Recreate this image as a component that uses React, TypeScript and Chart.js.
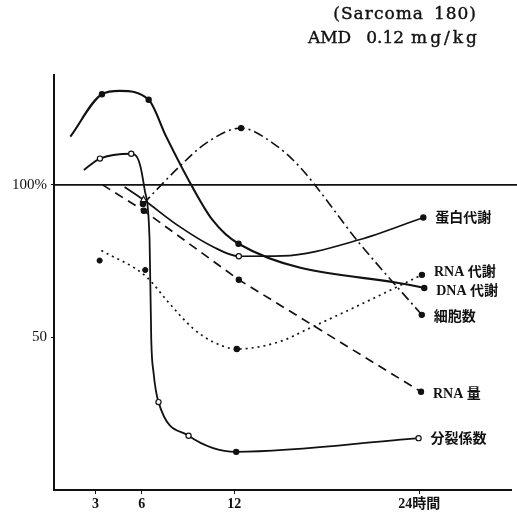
import React, { useEffect, useRef } from "react";
import { Chart, registerables } from "chart.js";

Chart.register(...registerables);

// ---- axis ticks ----
const xTicks = [3, 6, 12, 24];
const xTickLabels = ["3", "6", "12", "24時間"];
const yTicks = [50, 100];
const yTickLabels = ["50", "100%"];
const refLevel = 100;

// ---- series (time in hours, value in %) ----
// DNA 代謝 : heavy curve with early peak
const dnaT = [1.36, 3.41, 4.56, 6.44, 7.58, 9.2, 10.58, 12.27, 24.32];
const dnaV = [115.8, 129.7, 130.8, 127.9, 115.8, 100.0, 88.5, 80.7, 66.2];
const dnaMarks = ["", "f", "", "f", "", "", "", "f", "f"];

// 蛋白代謝
const proT = [4.88, 6.11, 8.45, 10.58, 12.29, 15.12, 20.1, 24.26];
const proV = [99.3, 95.1, 86.3, 79.8, 76.6, 76.7, 82.0, 89.3];
const proMarks = ["", "t", "", "", "o", "", "", "f"];

// 細胞数 (dash-dot)
const cellT = [6.07, 8.44, 10.17, 12.44, 14.49, 16.22, 20.11, 24.16];
const cellV = [93.7, 106.0, 113.7, 118.6, 113.7, 106.0, 80.9, 57.4];
const cellMarks = ["f", "", "", "f", "", "", "", "f"];

// RNA 量 (long dash)
const rnaAmtT = [3.45, 6.13, 12.29, 24.11];
const rnaAmtV = [100.0, 91.5, 68.9, 32.2];
const rnaAmtMarks = ["", "f", "f", "f"];

// RNA 代謝 (dotted)
const rnaMetT = [3.37, 6.29, 7.69, 9.31, 10.6, 12.16, 14.93, 16.87, 19.9, 24.17];
const rnaMetV = [78.5, 69.9, 61.7, 53.0, 48.6, 46.2, 48.6, 53.0, 60.1, 70.5];
const rnaMetMarks = ["", "", "", "", "", "f", "", "", "", "f"];
// measured RNA 代謝 points lying off the drawn curve
const rnaMetPtT = [3.26, 6.22];
const rnaMetPtV = [75.2, 72.1];

// 分裂係数
const divT = [2.24, 3.28, 5.31, 5.85, 6.18, 6.5, 6.61, 6.76, 7.08, 9.03, 12.12, 23.95];
const divV = [104.9, 108.6, 110.2, 107.1, 98.4, 82.0, 49.2, 38.4, 28.8, 17.8, 12.5, 17.0];
const divMarks = ["", "o", "o", "", "", "", "", "", "o", "o", "f", "o"];

const INK = "#111111";
const LABEL_FONT = 'bold 14px "Liberation Serif", "Noto Sans CJK JP", serif';

function pts(t: number[], v: number[]) {
  return t.map((x, i) => ({ x, y: v[i] }));
}

function lineSet(
  t: number[],
  v: number[],
  marks: string[],
  width: number,
  dash: number[],
  endLabel: string,
  labelDy: number,
  smooth: boolean
) {
  return {
    data: pts(t, v),
    borderColor: INK,
    borderWidth: width,
    borderDash: dash,
    fill: false,
    showLine: true,
    cubicInterpolationMode: smooth ? "monotone" : "default",
    tension: smooth ? 0.4 : 0,
    pointRadius: marks.map((m) => (m === "" ? 0 : m === "t" ? 3.5 : 2.6)),
    pointStyle: marks.map((m) => (m === "t" ? "triangle" : "circle")),
    pointBackgroundColor: marks.map((m) => (m === "f" ? INK : "#ffffff")),
    pointBorderColor: INK,
    pointBorderWidth: 1.2,
    endLabel,
    labelDy,
  };
}

const annotPlugin = {
  id: "annot",
  beforeDatasetsDraw(chart: any) {
    const { ctx, chartArea, scales } = chart;
    const y = scales.y.getPixelForValue(refLevel);
    ctx.save();
    ctx.strokeStyle = INK;
    ctx.lineWidth = 1.6;
    ctx.beginPath();
    ctx.moveTo(chartArea.left, y);
    ctx.lineTo(chart.width, y);
    ctx.stroke();
    ctx.restore();
  },
  afterDatasetsDraw(chart: any) {
    const { ctx } = chart;
    ctx.save();
    ctx.fillStyle = INK;
    ctx.font = LABEL_FONT;
    ctx.textBaseline = "middle";
    ctx.textAlign = "left";
    chart.data.datasets.forEach((ds: any, i: number) => {
      if (!ds.endLabel) return;
      const meta = chart.getDatasetMeta(i);
      const last = meta.data[meta.data.length - 1];
      ctx.fillText(ds.endLabel, last.x + 12, last.y + ds.labelDy);
    });
    ctx.restore();
  },
};

export default function App() {
  const ref = useRef<HTMLCanvasElement | null>(null);

  useEffect(() => {
    if (!ref.current) return;
    const chart = new Chart(ref.current, {
      type: "scatter",
      data: {
        datasets: [
          lineSet(dnaT, dnaV, dnaMarks, 2.1, [], "DNA 代謝", 3, true),
          lineSet(proT, proV, proMarks, 1.7, [], "蛋白代謝", 1, true),
          lineSet(cellT, cellV, cellMarks, 1.6, [10, 4, 2, 4], "細胞数", 3, true),
          lineSet(rnaAmtT, rnaAmtV, rnaAmtMarks, 1.7, [9, 6], "RNA 量", 3, false),
          lineSet(rnaMetT, rnaMetV, rnaMetMarks, 1.7, [2, 4], "RNA 代謝", -2, true),
          {
            data: pts(rnaMetPtT, rnaMetPtV),
            showLine: false,
            pointRadius: 2.6,
            pointBackgroundColor: INK,
            pointBorderColor: INK,
            borderColor: INK,
          },
          lineSet(divT, divV, divMarks, 1.8, [], "分裂係数", 1, true),
        ] as any,
      },
      options: {
        animation: false,
        responsive: false,
        layout: { padding: { top: 75, right: 5, left: 0, bottom: 0 } },
        plugins: {
          legend: { display: false },
          tooltip: { enabled: false },
          title: { display: false },
        },
        scales: {
          x: {
            type: "linear",
            min: 0.3,
            max: 30,
            afterBuildTicks: (s: any) => {
              s.ticks = xTicks.map((value) => ({ value }));
            },
            afterFit: (s: any) => {
              s.height = 34;
            },
            ticks: {
              autoSkip: false,
              maxRotation: 0,
              padding: 2,
              color: INK,
              font: { family: '"Liberation Serif", "Noto Sans CJK JP", serif', size: 14, weight: "bold" },
              callback: (v: any) => xTickLabels[xTicks.indexOf(Number(v))] ?? "",
            },
            grid: { drawOnChartArea: false, drawTicks: true, tickLength: 4, color: INK },
            border: { display: true, color: INK, width: 2 },
          },
          y: {
            type: "linear",
            min: 0,
            max: 136,
            afterBuildTicks: (s: any) => {
              s.ticks = yTicks.map((value) => ({ value }));
            },
            afterFit: (s: any) => {
              s.width = 54;
            },
            ticks: {
              autoSkip: false,
              padding: 4,
              color: INK,
              font: { family: '"Liberation Serif", serif', size: 15 },
              callback: (v: any) => yTickLabels[yTicks.indexOf(Number(v))] ?? "",
            },
            grid: { drawOnChartArea: false, drawTicks: true, tickLength: 3, color: INK },
            border: { display: true, color: INK, width: 2 },
          },
        },
      },
      plugins: [annotPlugin],
    } as any);
    return () => chart.destroy();
  }, []);

  return (
    <div style={{ position: "absolute", left: 0, top: 0, width: 517, height: 524, background: "#fff" }}>
      <div
        style={{
          position: "absolute",
          right: 40,
          top: 1,
          textAlign: "right",
          fontFamily: '"DejaVu Serif", serif',
          fontSize: 17,
          lineHeight: "24px",
          color: INK,
          whiteSpace: "nowrap",
          WebkitTextStroke: "0.4px #111",
        }}
      >
        <div style={{ letterSpacing: "1px" }}>
          <span>(Sarcoma</span>
          <span style={{ marginLeft: 10 }}>180)</span>
        </div>
        <div>
          <span>AMD</span>
          <span style={{ marginLeft: 15 }}>0.12</span>
          <span style={{ marginLeft: 7, letterSpacing: "3px", marginRight: -3 }}>mg/kg</span>
        </div>
      </div>
      <canvas ref={ref} width={517} height={524} style={{ display: "block" }} />
    </div>
  );
}
